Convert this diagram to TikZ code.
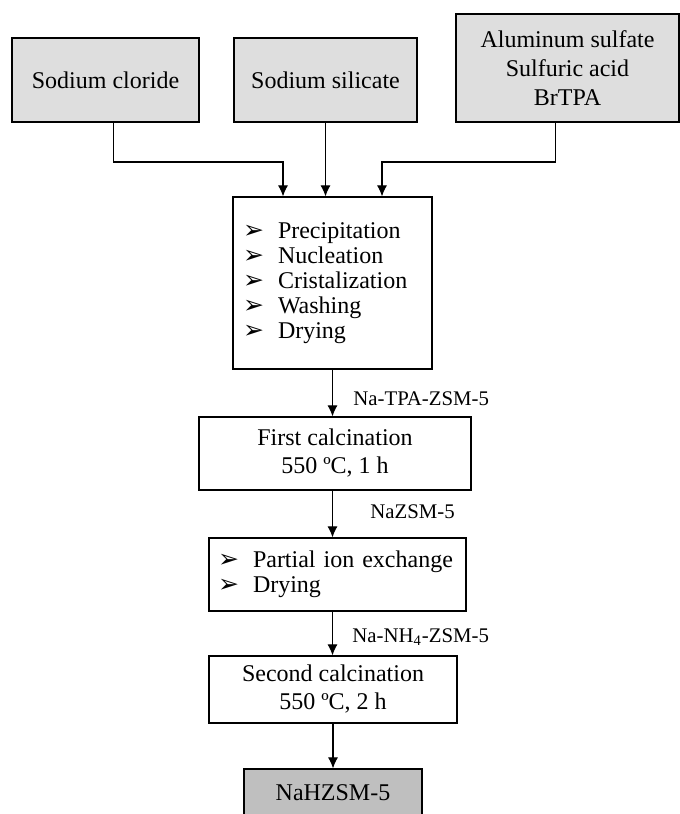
\documentclass[tikz,border=0pt]{standalone}
\usepackage{fontspec}
\setmainfont{Liberation Serif}
\newfontfamily\dejavu{DejaVu Sans}
\usetikzlibrary{arrows.meta}
\newcommand{\itm}[1]{\makebox[17.5pt][l]{\dejavu\fontsize{12.5}{12}\selectfont ➢}#1}
\begin{document}
\begin{tikzpicture}[x=0.5pt,y=-0.5pt,
    src/.style={draw, line width=0.6pt, fill=black!13, align=center, font=\fontsize{12}{14.5}\selectfont},
    stepbox/.style={draw, line width=0.6pt, fill=white, align=center, font=\fontsize{12}{14}\selectfont},
    listbox/.style={draw, line width=0.6pt, fill=white, align=left, font=\fontsize{12}{12.5}\selectfont},
    lbl/.style={font=\fontsize{10.4}{12}\selectfont, inner sep=0pt},
    arr/.style={line width=0.55pt, -{Latex[length=5.5pt,width=5pt]}}]
    \useasboundingbox (0,0) rectangle (680,814);
    % raw materials
    \node[src, minimum width=93.5pt, minimum height=42pt] (nacl) at (105.5,80) {Sodium cloride};
    \node[src, minimum width=91.5pt, minimum height=42pt] (silicate) at (325.5,80) {Sodium silicate};
    \node[src, minimum width=111.5pt, minimum height=54pt] (alum) at (567.5,68) {Aluminum sulfate\\Sulfuric acid\\BrTPA};
    % synthesis
    \node[listbox, text width=89.5pt, inner xsep=5pt, minimum height=86pt] (steps) at (332.5,283)
        {\itm{Precipitation}\\\itm{Nucleation}\\\itm{Cristalization}\\\itm{Washing}\\\itm{Drying}};
    \node[stepbox, minimum width=136pt, minimum height=36.5pt] (calc1) at (335,453.5) {First calcination\\550 ºC, 1 h};
    \node[listbox, text width=119.5pt, inner xsep=4.5pt, minimum height=36.5pt] (exch) at (337.5,574.5)
        {\itm{Partial ion exchange}\\\itm{Drying}};
    \node[stepbox, minimum width=124pt, minimum height=33.5pt] (calc2) at (333,689.5) {Second calcination\\550 ºC, 2 h};
    \node[src, fill=black!25, minimum width=89pt, minimum height=24pt, font=\fontsize{12}{14}\selectfont] (prod) at (333,793) {NaHZSM-5};
    % joints
    \coordinate (j1) at (283,162);
    \coordinate (j3) at (382,162);
    \draw[arr] ([xshift=3.9pt]nacl.south) |- (j1) -- (j1 |- steps.north);
    \draw[arr] (silicate.south) -- (silicate.south |- steps.north);
    \draw[arr] ([xshift=-6.2pt]alum.south) |- (j3) -- (j3 |- steps.north);
    \draw[arr] (steps.south) -- (steps.south |- calc1.north);
    \draw[arr] (steps.south |- calc1.south) -- (steps.south |- exch.north);
    \draw[arr] (steps.south |- exch.south) -- (steps.south |- calc2.north);
    \draw[arr] (calc2.south) -- (prod.north);
    % intermediate products
    \node[lbl, anchor=base west] (tpa) at (353,405) {Na-TPA-ZSM-5};
    \node[lbl, anchor=base west] (nazsm) at (370,518) {NaZSM-5};
    \node[lbl, anchor=base west] (nh4) at (352,642) {Na-NH\textsubscript{4}-ZSM-5};
\end{tikzpicture}
\end{document}
